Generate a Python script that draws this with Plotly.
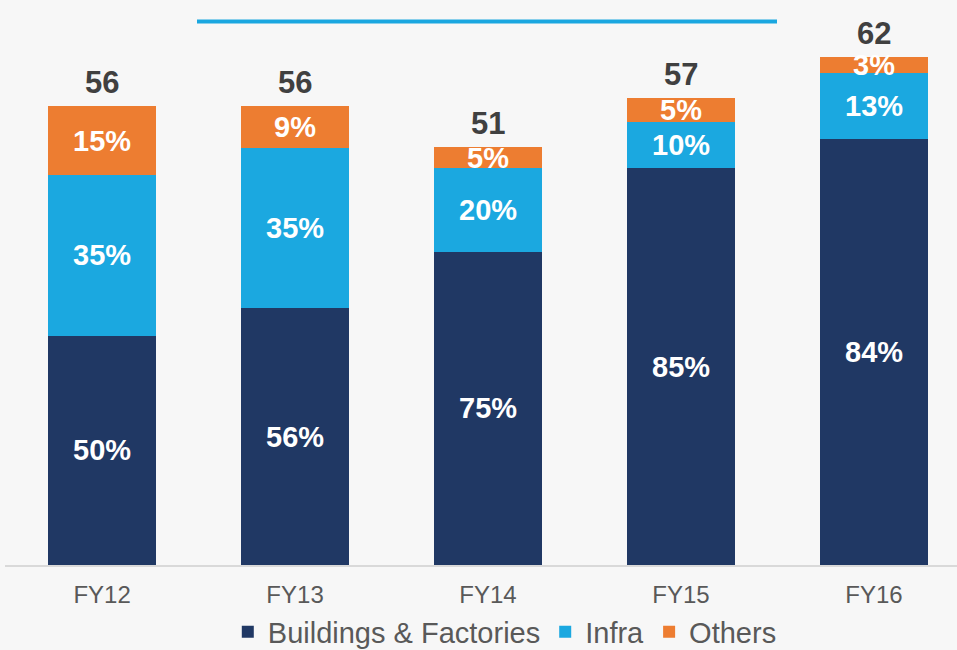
import plotly.graph_objects as go

categories = ["FY12", "FY13", "FY14", "FY15", "FY16"]
totals = [56, 56, 51, 57, 62]
pct_buildings = [50, 56, 75, 85, 84]
pct_infra = [35, 35, 20, 10, 13]
pct_others = [15, 9, 5, 5, 3]

series = [
    ("Buildings & Factories", pct_buildings, "#203864"),
    ("Infra", pct_infra, "#1ba8e0"),
    ("Others", pct_others, "#ed7d31"),
]

fig = go.Figure()
annotations = []
base = [0.0] * len(categories)
for name, pcts, color in series:
    vals = [t * p / 100.0 for t, p in zip(totals, pcts)]
    fig.add_trace(go.Bar(
        x=list(range(len(categories))), y=vals, name=name,
        marker=dict(color=color, line=dict(width=0)),
        hoverinfo="skip",
    ))
    for i, (v, p) in enumerate(zip(vals, pcts)):
        annotations.append(dict(
            x=i, y=base[i] + v / 2, xref="x", yref="y", text=f"{p}%",
            showarrow=False, yanchor="middle",
            font=dict(family="Liberation Sans, Arial", size=29, color="white", weight="bold"),
        ))
        base[i] += v

for i, t in enumerate(totals):
    annotations.append(dict(
        x=i, y=t, xref="x", yref="y", text=str(t), showarrow=False,
        yanchor="middle", yshift=24,
        font=dict(family="Liberation Sans, Arial", size=31, color="#404040", weight="bold"),
    ))

fig.update_layout(
    width=957, height=650,
    barmode="stack", bargap=0.44,
    paper_bgcolor="#f7f7f7", plot_bgcolor="#f7f7f7",
    margin=dict(l=5, r=0, t=0, b=85, autoexpand=False),
    xaxis=dict(
        range=[-0.503, 4.43], tickmode="array",
        tickvals=list(range(len(categories))), ticktext=categories,
        showline=True, linecolor="#d9d9d9", linewidth=2,
        showgrid=False, zeroline=False, ticks="", automargin=False,
        ticklabelstandoff=7,
        tickfont=dict(family="Liberation Sans, Arial", size=24, color="#595959"),
    ),
    yaxis=dict(range=[0, 69.0], visible=False, showgrid=False, zeroline=False),
    legend=dict(
        orientation="h", x=0.525, xanchor="center",
        yref="container", y=(650 - 632) / 650, yanchor="middle",
        font=dict(family="Liberation Sans, Arial", size=29, color="#595959"),
        bgcolor="rgba(0,0,0,0)", itemwidth=30, traceorder="normal",
    ),
    annotations=annotations,
    shapes=[dict(
        type="line", xref="paper", yref="paper",
        x0=(197 - 5) / 952, x1=(777 - 5) / 952, y0=1 - 21.5 / 565, y1=1 - 21.5 / 565,
        line=dict(color="#1aa7e0", width=4),
    )],
    showlegend=True,
)

fig.write_html(
    "out.html",
    config={"displayModeBar": False},
    post_script="document.body.style.margin='0';document.body.style.background='#f7f7f7';",
)
